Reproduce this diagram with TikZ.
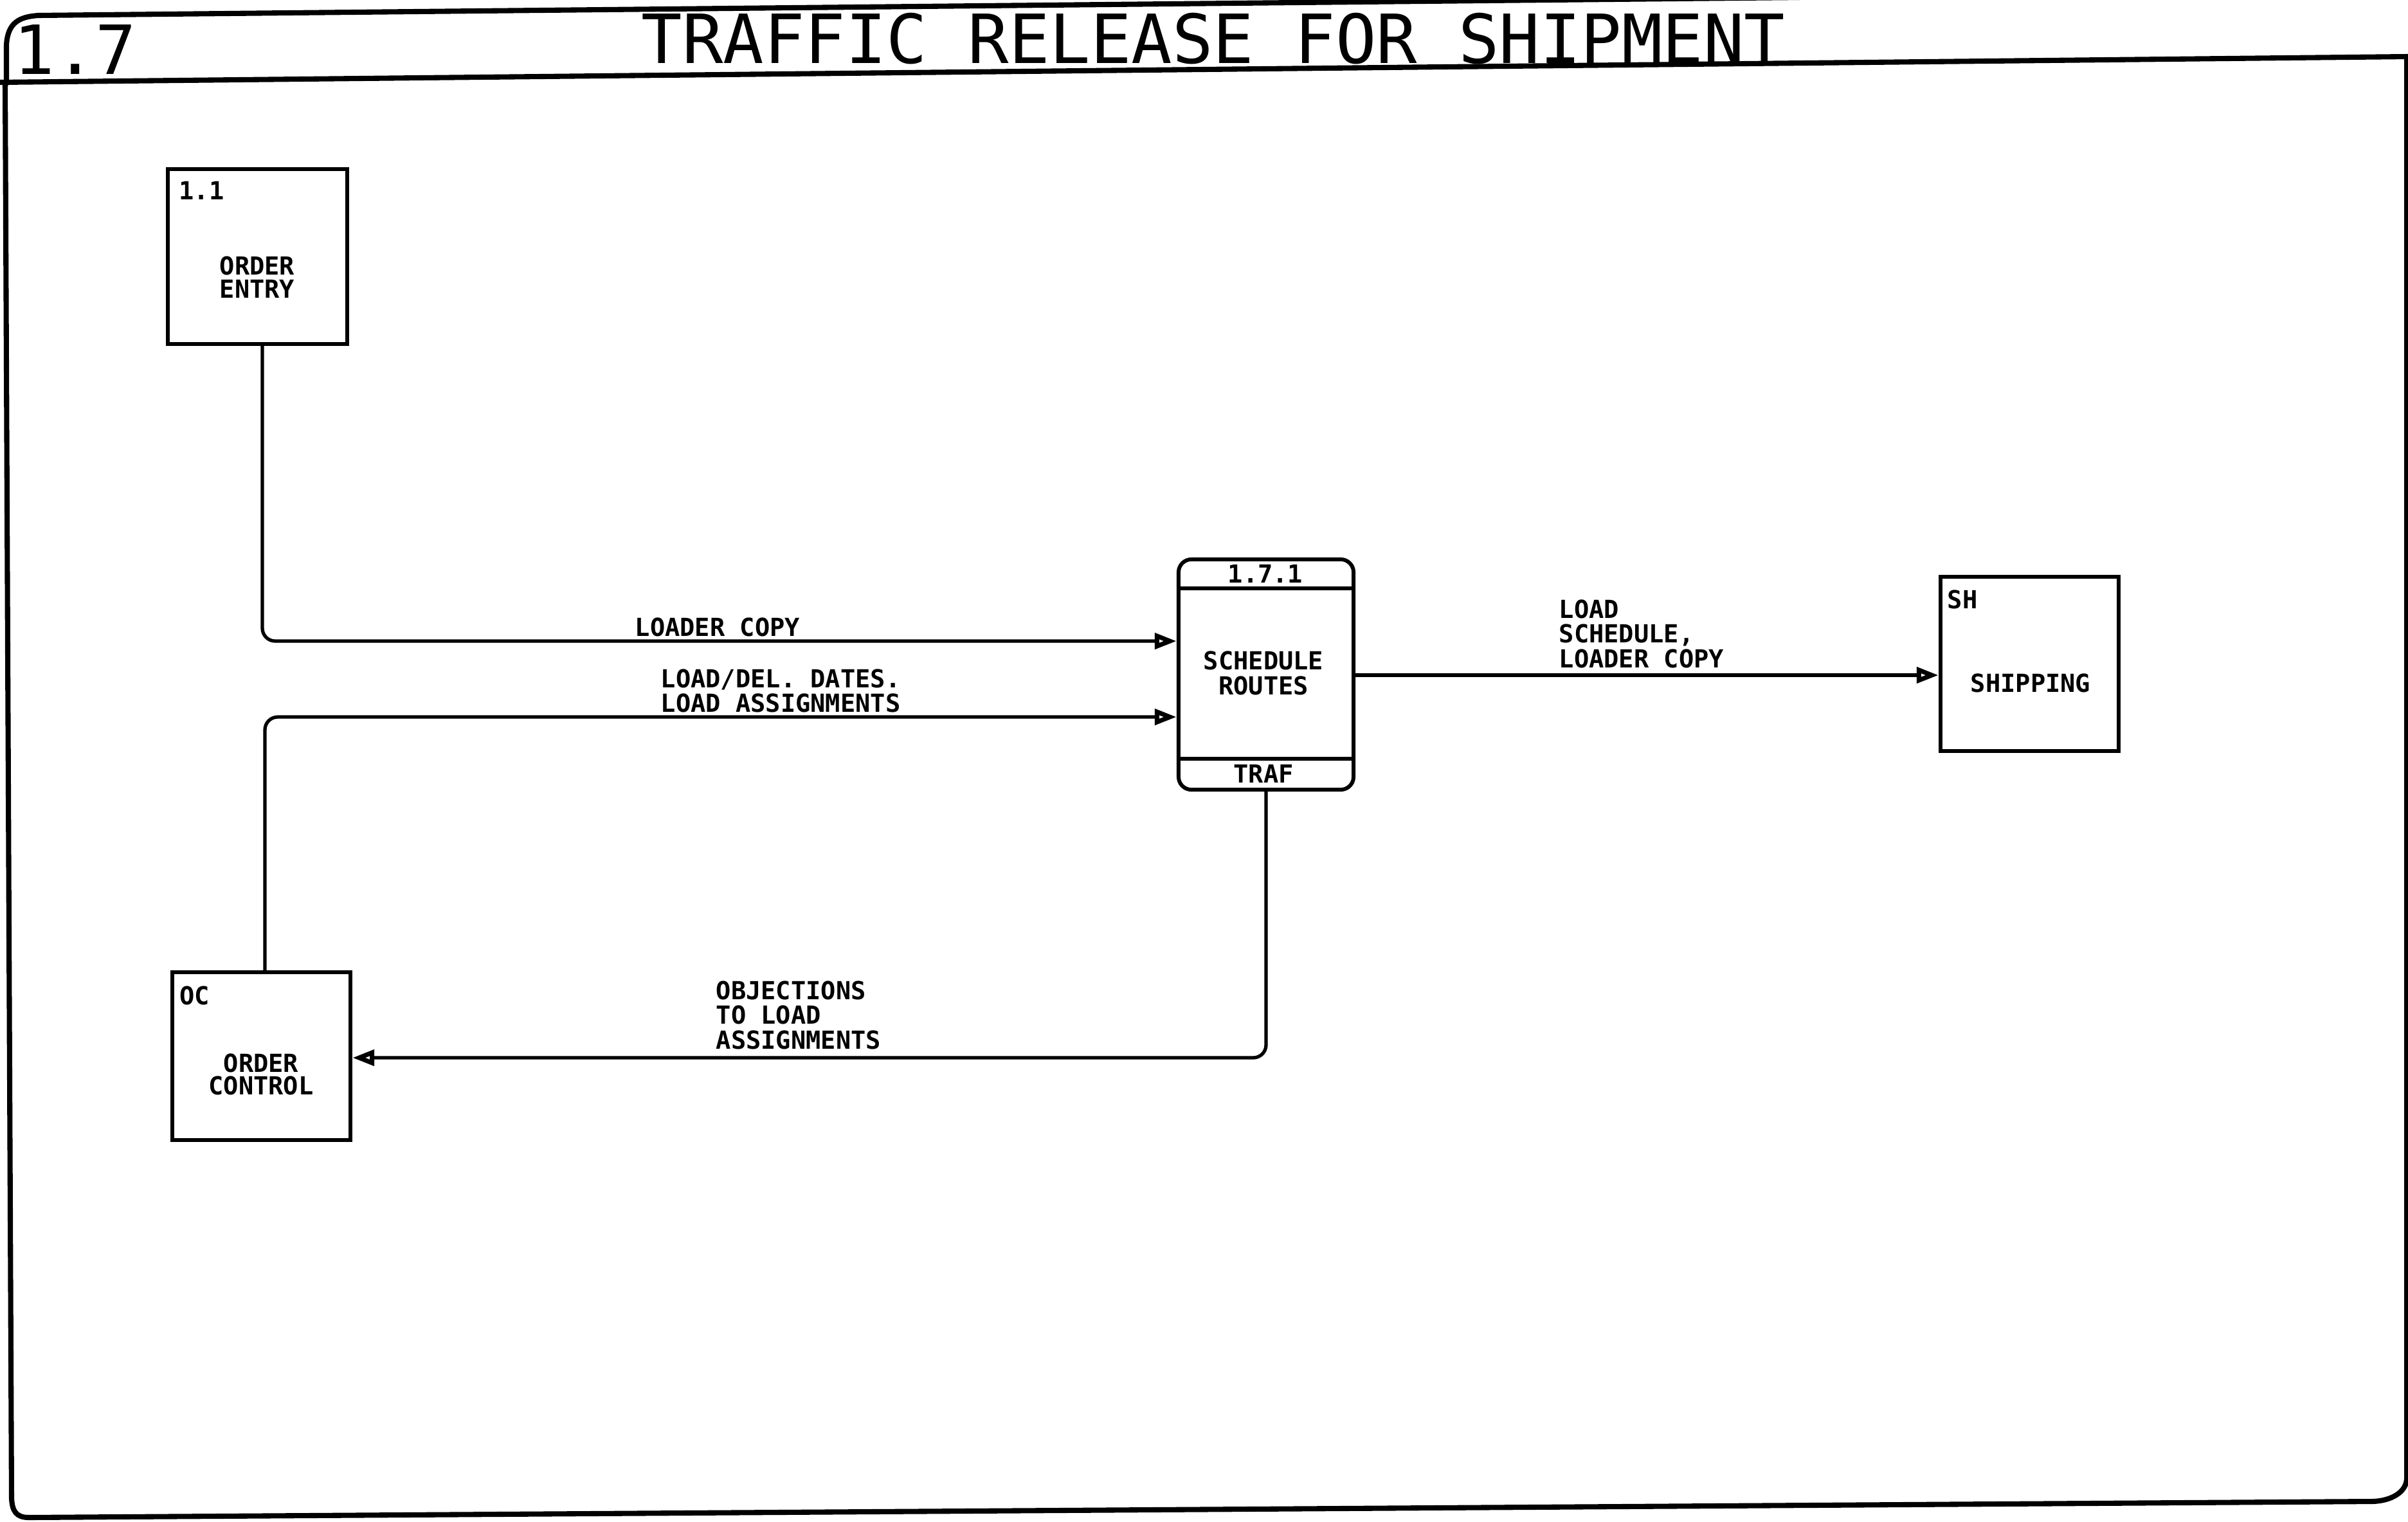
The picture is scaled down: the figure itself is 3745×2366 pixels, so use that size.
\documentclass[tikz,border=0pt]{standalone}
\usepackage{fontspec}
\setmainfont{DejaVu Sans Mono}
\usetikzlibrary{arrows.meta}
\newcommand\lblfont{\fontsize{11}{10.9}\selectfont\bfseries}
\newcommand\ttlfont{\fontsize{30}{30}\selectfont}
\begin{document}
\begin{tikzpicture}[x=0.01cm,y=-0.01cm,
  frame/.style={line width=2.3pt, line cap=round, line join=round},
  procbox/.style={draw, line width=1.7pt, inner sep=0pt},
  lbl/.style={font=\lblfont, inner sep=0pt},
  flow/.style={line width=1.5pt, rounded corners=0.2cm,
    -{Triangle[open,length=0.34cm,width=0.24cm,line width=2pt]}}]
\useasboundingbox (0,0) rectangle (3745,2366);
% page frame
\draw[frame] (10,130) -- (10,70) .. controls (12,35) and (30,26) .. (60,24) -- (2800,-4);
\draw[frame] (0,128) -- (3745,88);
\draw[frame] (8,128) -- (18,2330) .. controls (19,2350) and (25,2360) .. (45,2360)
  -- (3690,2335) .. controls (3720,2334) and (3742,2320) .. (3743,2300) -- (3743,88);
% title
\node[font=\ttlfont, inner sep=0pt, anchor=base west] (num) at (21,115) {1.7};
\node[font=\ttlfont, inner sep=0pt, anchor=base] (title) at (1887,98) {TRAFFIC RELEASE FOR SHIPMENT};
% boxes
\node[procbox, minimum width=2.79cm, minimum height=2.72cm] (oe) at (400.5,399) {};
\node[procbox, minimum width=2.72cm, minimum height=3.58cm, rounded corners=0.2cm] (sr) at (1969,1049) {};
\node[procbox, minimum width=2.77cm, minimum height=2.71cm] (sh) at (3156.5,1032.5) {};
\node[procbox, minimum width=2.77cm, minimum height=2.61cm] (oc) at (406.5,1642.5) {};
\coordinate (h1) at (0,915);
\coordinate (h2) at (0,1180);
\draw[line width=1.7pt] (sr.west |- h1) -- (sr.east |- h1);
\draw[line width=1.7pt] (sr.west |- h2) -- (sr.east |- h2);
% box texts
\node[lbl, anchor=north west] (oeid) at (278,282) {1.1};
\node[lbl, align=center] (oetxt) at (400,431) {ORDER\\[-0.03cm]ENTRY};
\node[lbl] (srid) at (1968,892) {1.7.1};
\node[lbl, align=center] (srtxt) at (1965,1047) {SCHEDULE\\ROUTES};
\node[lbl] (srloc) at (1965,1203) {TRAF};
\node[lbl, anchor=north west] (shid) at (3028,917) {SH};
\node[lbl] (shtxt) at (3158,1062) {SHIPPING};
\node[lbl, anchor=north west] (ocid) at (279,1533) {OC};
\node[lbl, align=center] (octxt) at (406,1671) {ORDER\\[-0.03cm]CONTROL};
% connectors
\coordinate (c1) at (408,997);
\coordinate (c2) at (412,1115);
\coordinate (c3) at (0,1050);
\coordinate (c4) at (1969,1645);
\draw[flow] (oe.south -| c1) -- (c1) -- (sr.west |- c1);
\draw[flow] (oc.north -| c2) -- (c2) -- (sr.west |- c2);
\draw[flow] (sr.east |- c3) -- (sh.west |- c3);
\draw[flow] (sr.south) -- (c4) -- (oc.east |- c4);
% flow labels
\node[lbl, anchor=north west] (f1) at (987,960) {LOADER COPY};
\node[lbl, anchor=north west, align=left] (f2) at (1027,1040) {LOAD/DEL. DATES.\\LOAD ASSIGNMENTS};
\node[lbl, anchor=north west, align=left] (f3) at (2424,932) {LOAD\\SCHEDULE,\\LOADER COPY};
\node[lbl, anchor=north west, align=left] (f4) at (1113,1525) {OBJECTIONS\\TO LOAD\\ASSIGNMENTS};
\end{tikzpicture}
\end{document}
